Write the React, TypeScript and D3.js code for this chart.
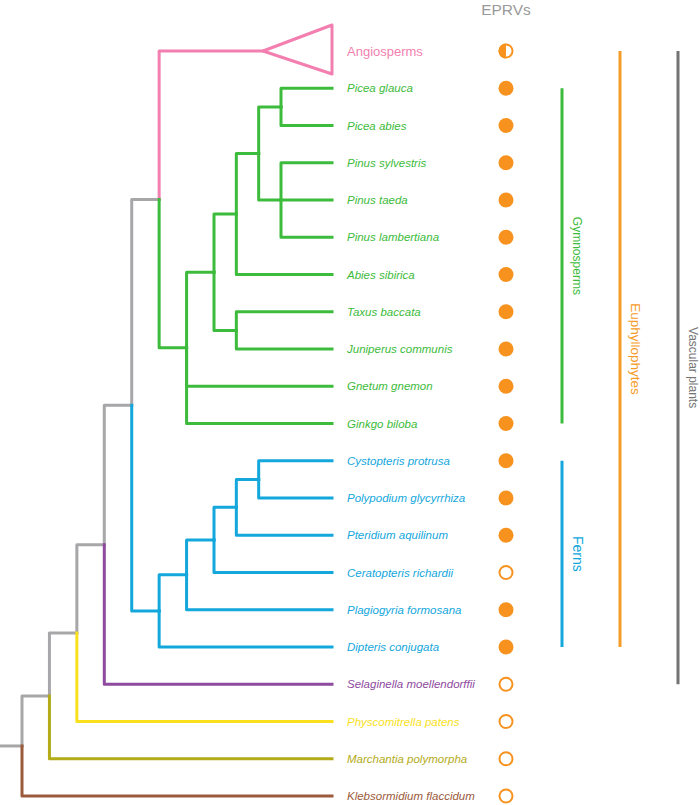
import React from "react";
import * as d3 from "d3";

type TreeNode = { name?: string; group: string; children?: TreeNode[] };

// Tree topology (leaves in top-to-bottom order)
const tree: TreeNode = {
  group: "stem",
  children: [
    {
      group: "stem",
      children: [
        {
          group: "stem",
          children: [
            {
              group: "stem",
              children: [
                {
                  group: "stem",
                  children: [
                    {
                      group: "stem",
                      children: [
                        { name: "Angiosperms", group: "angio" },
                        {
                          group: "gymno",
                          children: [
                            {
                              group: "gymno",
                              children: [
                                {
                                  group: "gymno",
                                  children: [
                                    {
                                      group: "gymno",
                                      children: [
                                        {
                                          group: "gymno",
                                          children: [
                                            { name: "Picea glauca", group: "gymno" },
                                            { name: "Picea abies", group: "gymno" },
                                          ],
                                        },
                                        {
                                          group: "gymno",
                                          children: [
                                            { name: "Pinus sylvestris", group: "gymno" },
                                            { name: "Pinus taeda", group: "gymno" },
                                            { name: "Pinus lambertiana", group: "gymno" },
                                          ],
                                        },
                                      ],
                                    },
                                    { name: "Abies sibirica", group: "gymno" },
                                  ],
                                },
                                {
                                  group: "gymno",
                                  children: [
                                    { name: "Taxus baccata", group: "gymno" },
                                    { name: "Juniperus communis", group: "gymno" },
                                  ],
                                },
                              ],
                            },
                            { name: "Gnetum gnemon", group: "gymno" },
                            { name: "Ginkgo biloba", group: "gymno" },
                          ],
                        },
                      ],
                    },
                    {
                      group: "fern",
                      children: [
                        {
                          group: "fern",
                          children: [
                            {
                              group: "fern",
                              children: [
                                {
                                  group: "fern",
                                  children: [
                                    {
                                      group: "fern",
                                      children: [
                                        { name: "Cystopteris protrusa", group: "fern" },
                                        { name: "Polypodium glycyrrhiza", group: "fern" },
                                      ],
                                    },
                                    { name: "Pteridium aquilinum", group: "fern" },
                                  ],
                                },
                                { name: "Ceratopteris richardii", group: "fern" },
                              ],
                            },
                            { name: "Plagiogyria formosana", group: "fern" },
                          ],
                        },
                        { name: "Dipteris conjugata", group: "fern" },
                      ],
                    },
                  ],
                },
                { name: "Selaginella moellendorffii", group: "lyco" },
              ],
            },
            { name: "Physcomitrella patens", group: "moss" },
          ],
        },
        { name: "Marchantia polymorpha", group: "liver" },
      ],
    },
    { name: "Klebsormidium flaccidum", group: "alga" },
  ],
};

const leafNames = [
  "Angiosperms",
  "Picea glauca",
  "Picea abies",
  "Pinus sylvestris",
  "Pinus taeda",
  "Pinus lambertiana",
  "Abies sibirica",
  "Taxus baccata",
  "Juniperus communis",
  "Gnetum gnemon",
  "Ginkgo biloba",
  "Cystopteris protrusa",
  "Polypodium glycyrrhiza",
  "Pteridium aquilinum",
  "Ceratopteris richardii",
  "Plagiogyria formosana",
  "Dipteris conjugata",
  "Selaginella moellendorffii",
  "Physcomitrella patens",
  "Marchantia polymorpha",
  "Klebsormidium flaccidum",
];

// EPRV presence: "half", "full", "none"
const eprvStatus = [
  "half", "full", "full", "full", "full", "full", "full", "full", "full", "full", "full",
  "full", "full", "full", "none", "full", "full", "none", "none", "none", "none",
];

// Clade bars: name, first leaf, last leaf, column
const cladeNames = ["Gymnosperms", "Ferns", "Euphyllophytes", "Vascular plants"];
const cladeFirst = ["Picea glauca", "Cystopteris protrusa", "Angiosperms", "Angiosperms"];
const cladeLast = ["Ginkgo biloba", "Dipteris conjugata", "Dipteris conjugata", "Selaginella moellendorffii"];
const cladeColumn = [0, 0, 1, 2];
const cladeGroup = ["gymno", "fern", "euphyllo", "vascular"];

const colors: Record<string, string> = {
  stem: "#a7a7a9",
  angio: "#f27fb0",
  gymno: "#3dbb3c",
  fern: "#13a7dc",
  lyco: "#8e4a9e",
  moss: "#f8e11c",
  liver: "#b3ab18",
  alga: "#9b5a3b",
  euphyllo: "#f59b28",
  vascular: "#737373",
};
const cladeFontSize: Record<string, number> = {
  gymno: 12,
  fern: 14,
  euphyllo: 13.5,
  vascular: 12,
};
const dotColor = "#f7921e";
const FONT = "'Liberation Sans', Arial, Helvetica, sans-serif";

export default function App() {
  const W = 700;
  const H = 805;
  const leafX = 332;
  const labelX = 347;
  const dotX = 506;

  const root = d3.hierarchy<TreeNode>(tree);
  const x = d3.scaleLinear().domain([0, 7, 10]).range([22, 214, 281]);
  const y = d3.scalePoint<string>().domain(leafNames).range([51, 796]);
  const colX = d3.scalePoint<number>().domain([0, 1, 2]).range([562, 678]);

  // compute positions: post-order
  const pos = new Map<any, { x: number; y: number }>();
  root.eachAfter((n: any) => {
    if (!n.children) {
      pos.set(n, { x: leafX, y: y(n.data.name)! });
    } else {
      const ys = n.children.map((c: any) => pos.get(c)!.y);
      pos.set(n, { x: x(n.depth), y: (ys[0] + ys[ys.length - 1]) / 2 });
    }
  });

  const segs: { d: string; color: string; key: string }[] = [];
  const rp = pos.get(root)!;
  segs.push({ d: `M0,${rp.y}H${rp.x}`, color: colors.stem, key: "rootstem" });
  let k = 0;
  root.each((n: any) => {
    if (!n.children) return;
    const p = pos.get(n)!;
    n.children.forEach((c: any) => {
      const cp = pos.get(c)!;
      const endX = c.data.name === "Angiosperms" ? leafX - 69 : cp.x;
      const path = d3.path();
      path.moveTo(p.x, p.y);
      path.lineTo(p.x, cp.y);
      path.lineTo(endX, cp.y);
      segs.push({ d: path.toString(), color: colors[c.data.group], key: "s" + k++ });
    });
  });

  const angY = y("Angiosperms")!;
  const tri = d3.path();
  tri.moveTo(leafX - 69, angY);
  tri.lineTo(leafX, angY - 26);
  tri.lineTo(leafX, angY + 23);
  tri.closePath();

  const leaves = root.leaves();
  const groupOf = new Map<string, string>();
  leaves.forEach((l: any) => groupOf.set(l.data.name, l.data.group));

  const halfR = 6.5;

  return (
    <svg
      width={W}
      height={H}
      style={{ position: "absolute", left: 0, top: 0, background: "#fff" }}
      fontFamily={FONT}
    >
      <rect x={0} y={0} width={W} height={H} fill="#fff" />
      {segs.map((s) => (
        <path
          key={s.key}
          d={s.d}
          fill="none"
          stroke={s.color}
          strokeWidth={3}
          strokeLinejoin="round"
          strokeLinecap="square"
        />
      ))}
      <path
        d={tri.toString()}
        fill="none"
        stroke={colors.angio}
        strokeWidth={3}
        strokeLinejoin="round"
      />

      {/* leaf labels */}
      {leafNames.map((name) => (
        <text
          key={name}
          x={labelX}
          y={y(name)!}
          dy="0.35em"
          fontSize={name === "Angiosperms" ? 13 : 11.5}
          fontStyle={name === "Angiosperms" ? "normal" : "italic"}
          fill={colors[groupOf.get(name)!]}
        >
          {name}
        </text>
      ))}

      {/* EPRV title */}
      <text x={dotX} y={15} textAnchor="middle" fontSize={15.5} fill="#9a9a9a">
        EPRVs
      </text>

      {/* EPRV dots */}
      {leafNames.map((name, i) => {
        const cy = y(name)!;
        const st = eprvStatus[i];
        if (st === "full")
          return <circle key={name} cx={dotX} cy={cy} r={7.5} fill={dotColor} />;
        if (st === "none")
          return (
            <circle
              key={name}
              cx={dotX}
              cy={cy}
              r={6.5}
              fill="#fff"
              stroke={dotColor}
              strokeWidth={2}
            />
          );
        const half = d3.path();
        half.moveTo(dotX, cy - halfR - 1);
        half.arc(dotX, cy, halfR + 1, -Math.PI / 2, Math.PI / 2, true);
        half.closePath();
        return (
          <g key={name}>
            <circle cx={dotX} cy={cy} r={halfR} fill="#fff" stroke={dotColor} strokeWidth={2} />
            <path d={half.toString()} fill={dotColor} />
          </g>
        );
      })}

      {/* clade bars */}
      {cladeNames.map((name, i) => {
        const bx = colX(cladeColumn[i])!;
        const y0 = y(cladeFirst[i])!;
        const y1 = y(cladeLast[i])!;
        const col = colors[cladeGroup[i]];
        const cy = (y0 + y1) / 2;
        return (
          <g key={name}>
            <line x1={bx} x2={bx} y1={y0} y2={y1} stroke={col} strokeWidth={3} />
            <text
              transform={`translate(${bx + 11},${cy}) rotate(90)`}
              textAnchor="middle"
              fontSize={cladeFontSize[cladeGroup[i]]}
              fill={col}
            >
              {name}
            </text>
          </g>
        );
      })}
    </svg>
  );
}
